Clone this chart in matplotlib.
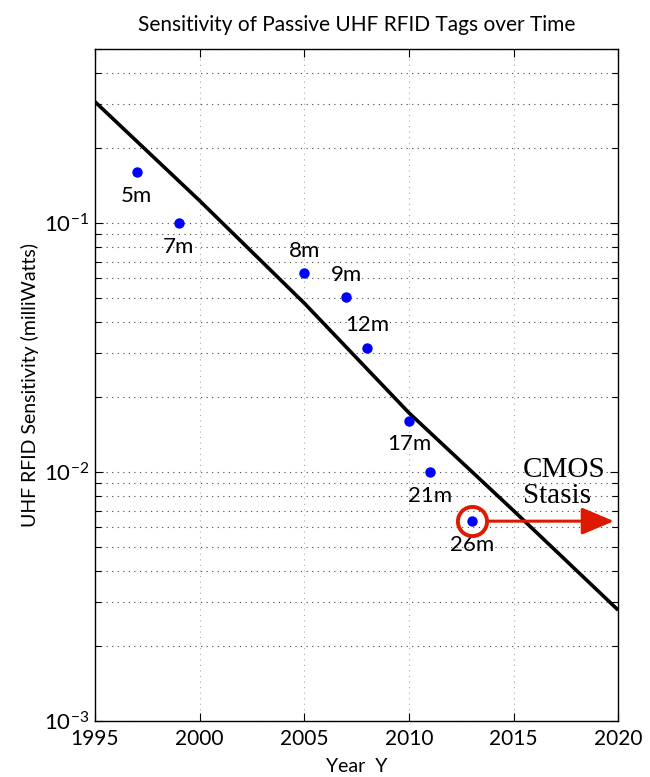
import matplotlib
matplotlib.use('Agg')
import matplotlib.pyplot as plt
from matplotlib.ticker import LogLocator, NullFormatter, FixedLocator
import numpy as np

plt.rcParams['font.family'] = ['Lato', 'DejaVu Sans']
plt.rcParams['mathtext.fontset'] = 'custom'
plt.rcParams['mathtext.rm'] = 'Lato'
plt.rcParams['mathtext.it'] = 'Lato:italic'

# tag sensitivity measurements
years = [1997, 1999, 2005, 2007, 2008, 2010, 2011, 2013]
sensitivity = [0.16, 0.10, 0.063, 0.0505, 0.0316, 0.0161, 0.0100, 0.00635]
ranges = ['5m', '7m', '8m', '9m', '12m', '17m', '21m', '26m']
label_side = ['below', 'below', 'above', 'above', 'above', 'below', 'below', 'below']

# trend line
trend_years = [1995, 2000, 2005, 2010, 2015, 2020]
trend_vals = [0.307, 0.123, 0.0477, 0.0173, 0.0070, 0.00279]

fig = plt.figure(figsize=(6.5, 7.77), dpi=100)
ax = fig.add_axes([0.146, 0.072, 0.805, 0.865])

ax.plot(trend_years, trend_vals, color='black', lw=2.6, solid_capstyle='butt', zorder=3)
ax.plot(years, sensitivity, 'o', color='#0000ff', ms=7.5, mec='none', zorder=4)

for x, y, lab, side in zip(years, sensitivity, ranges, label_side):
    dy = -17 if side == 'below' else 16
    ax.annotate(lab, (x, y), xytext=(0, dy), textcoords='offset points',
                ha='center', va='center', fontsize=16, color='black')

# highlight the latest tag and the CMOS stasis arrow
red = '#dd1a00'
ax.plot([years[-1]], [sensitivity[-1]], 'o', ms=21, mfc='none', mec=red, mew=2.8, zorder=5)
ax.annotate('', xy=(2019.8, sensitivity[-1]), xytext=(years[-1], sensitivity[-1]),
            arrowprops=dict(arrowstyle='-|>,head_length=1.0,head_width=0.42',
                            color=red, lw=2.2, shrinkA=11, shrinkB=0,
                            mutation_scale=20), zorder=5)
ax.text(2015.45, 0.0071, 'CMOS\nStasis', family='Liberation Serif', fontsize=21,
        ha='left', va='bottom', linespacing=1.0)

ax.set_yscale('log')
ax.set_xlim(1995, 2020)
ax.set_ylim(1e-3, 0.5)
ax.set_xticks([1995, 2000, 2005, 2010, 2015, 2020])
ax.yaxis.set_major_locator(FixedLocator([1e-3, 1e-2, 1e-1]))
ax.set_yticklabels(['$10^{-3}$', '$10^{-2}$', '$10^{-1}$'])
ax.yaxis.set_minor_locator(LogLocator(base=10, subs=np.arange(2, 10), numticks=20))
ax.yaxis.set_minor_formatter(NullFormatter())

ax.tick_params(which='both', direction='in', top=True, right=True)
ax.tick_params(which='major', length=6, width=0.8)
ax.tick_params(which='minor', length=4, width=0.8)
ax.tick_params(axis='x', pad=6, labelsize=15)
ax.tick_params(axis='y', pad=4, labelsize=16)

ax.grid(True, axis='y', which='both', linestyle=(0, (1, 4)), color='#444444', lw=0.8)
ax.grid(True, axis='x', which='major', linestyle=(0, (1, 4)), color='#aaaaaa', lw=0.8)
for s in ax.spines.values():
    s.set_linewidth(1.0)

ax.set_title('Sensitivity of Passive UHF RFID Tags over Time', fontsize=15, pad=13)
ax.set_xlabel('Year  Y', fontsize=14, labelpad=6)
ax.set_ylabel('UHF RFID Sensitivity (milliWatts)', fontsize=14, labelpad=4)

fig.savefig('out.png', dpi=100)
